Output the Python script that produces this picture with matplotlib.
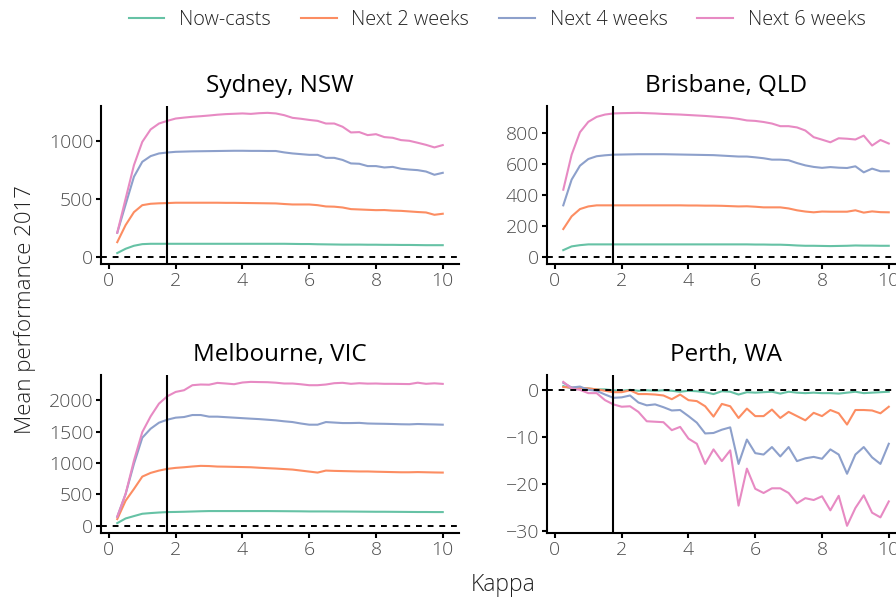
import matplotlib
matplotlib.use("Agg")
import matplotlib.pyplot as plt
import numpy as np

plt.rcParams['font.family'] = ['Open Sans', 'DejaVu Sans']

kappa = np.arange(1, 41) * 0.25
series = ["Now-casts", "Next 2 weeks", "Next 4 weeks", "Next 6 weeks"]
colors = ["#66c2a5", "#fc8d62", "#8da0cb", "#e78ac3"]

sydney = {
    "Now-casts": [32, 69, 95, 109, 112, 112, 112, 112, 112, 112, 112, 112, 112, 112, 112, 112, 112, 112, 112, 112,
                  112, 111, 110, 110, 108, 107, 106, 105, 105, 105, 104, 104, 103, 103, 102, 102, 101, 100, 100, 100],
    "Next 2 weeks": [126, 273, 385, 445, 457, 461, 463, 466, 466, 466, 466, 466, 466, 465, 465, 464, 463, 462, 461, 460,
                     455, 451, 451, 451, 445, 434, 432, 425, 411, 408, 405, 402, 403, 398, 396, 391, 386, 382, 362, 371],
    "Next 4 weeks": [207, 450, 690, 819, 868, 891, 899, 905, 907, 909, 910, 911, 912, 913, 914, 914, 913, 913, 912, 912,
                     900, 891, 885, 879, 879, 853, 853, 835, 805, 802, 782, 782, 770, 775, 759, 752, 747, 735, 707, 724],
    "Next 6 weeks": [207, 500, 790, 991, 1098, 1149, 1172, 1192, 1200, 1207, 1212, 1218, 1225, 1230, 1233, 1236, 1232, 1238,
                     1241, 1236, 1221, 1198, 1190, 1180, 1172, 1149, 1149, 1121, 1072, 1075, 1049, 1057, 1032, 1026, 1006,
                     1000, 983, 965, 943, 963],
}
brisbane = {
    "Now-casts": [43, 67, 75, 80, 80, 80, 80, 80, 80, 80, 80, 80, 80, 80, 80, 80, 80, 80, 80, 80,
                  80, 80, 80, 79, 79, 78, 78, 76, 73, 71, 71, 70, 69, 70, 71, 73, 72, 72, 71, 71],
    "Next 2 weeks": [179, 261, 308, 325, 332, 332, 332, 332, 332, 332, 332, 332, 332, 332, 332, 331, 331, 330, 330, 329,
                     327, 325, 326, 323, 319, 319, 319, 312, 300, 292, 287, 292, 291, 291, 291, 300, 285, 293, 288, 287],
    "Next 4 weeks": [332, 498, 588, 631, 649, 655, 659, 660, 661, 662, 662, 662, 662, 661, 660, 659, 658, 657, 656, 653,
                     650, 647, 647, 642, 636, 627, 627, 623, 605, 590, 580, 574, 579, 575, 573, 584, 545, 569, 552, 552],
    "Next 6 weeks": [433, 659, 804, 871, 903, 918, 925, 927, 928, 929, 927, 925, 922, 920, 918, 915, 912, 909, 905, 901,
                     897, 890, 880, 877, 870, 860, 843, 843, 835, 815, 772, 756, 739, 765, 762, 757, 782, 718, 754, 731],
}
melbourne = {
    "Now-casts": [43, 117, 155, 192, 203, 212, 219, 221, 224, 228, 232, 235, 235, 235, 235, 235, 235, 235, 235, 234,
                  233, 232, 231, 229, 229, 229, 228, 228, 227, 226, 225, 224, 224, 223, 222, 221, 220, 220, 219, 219],
    "Next 2 weeks": [107, 400, 587, 784, 843, 880, 907, 923, 933, 945, 955, 952, 944, 942, 939, 936, 933, 925, 918, 912,
                     904, 896, 880, 864, 848, 880, 875, 872, 869, 866, 866, 862, 859, 856, 853, 853, 856, 853, 850, 848],
    "Next 4 weeks": [144, 507, 987, 1403, 1547, 1643, 1691, 1723, 1733, 1765, 1765, 1739, 1739, 1731, 1723, 1715, 1707, 1700,
                     1690, 1680, 1665, 1653, 1630, 1611, 1611, 1653, 1645, 1637, 1637, 1640, 1630, 1627, 1625, 1622, 1618,
                     1616, 1622, 1618, 1615, 1611],
    "Next 6 weeks": [144, 507, 1040, 1493, 1744, 1947, 2064, 2133, 2160, 2240, 2251, 2248, 2277, 2267, 2256, 2283, 2293, 2290,
                     2288, 2280, 2267, 2267, 2255, 2240, 2240, 2251, 2272, 2278, 2262, 2272, 2265, 2267, 2262, 2262, 2260,
                     2258, 2280, 2262, 2270, 2261],
}
perth = {
    "Now-casts": [0.9, 0.4, 0.5, 0.4, 0.2, 0.2, 0.0, -0.1, 0.1, -0.1, 0.0, -0.1, 0.0, -0.1, -0.3, -0.1, -0.2, -0.4,
                  -0.8, -0.2, -0.3, -0.9, -0.4, -0.5, -0.4, -0.3, -0.7, -0.3, -0.5, -0.6, -0.5, -0.6, -0.6, -0.7, -0.5,
                  -0.3, -0.6, -0.5, -0.4, -0.3],
    "Next 2 weeks": [0.7, 0.6, 0.5, 0.4, 0.2, -0.1, -0.4, -0.4, 0.0, -0.8, -0.8, -0.9, -1.1, -1.9, -0.9, -2.1, -2.3,
                     -3.4, -5.6, -2.9, -3.4, -5.9, -3.9, -5.5, -5.5, -4.1, -5.9, -4.6, -5.5, -6.4, -4.8, -5.5, -4.2, -4.9,
                     -7.3, -4.2, -4.2, -4.3, -4.9, -3.5],
    "Next 4 weeks": [1.6, 0.6, 0.8, 0.1, -0.1, -0.9, -1.6, -1.5, -1.1, -2.6, -3.2, -3.0, -3.6, -4.3, -4.2, -5.5, -6.9,
                     -9.2, -9.1, -8.4, -7.9, -15.7, -10.5, -13.4, -13.7, -12.1, -14.1, -12.1, -15.1, -14.5, -14.2, -14.6,
                     -12.6, -13.7, -17.8, -13.7, -12.1, -14.3, -15.7, -11.4],
    "Next 6 weeks": [1.8, 0.4, 0.1, -0.6, -0.6, -2.1, -3.0, -3.5, -3.4, -4.6, -6.6, -6.7, -6.8, -8.5, -7.8, -10.3, -11.4,
                     -15.7, -12.6, -15.1, -12.8, -24.6, -16.7, -21.0, -21.9, -20.9, -20.9, -21.9, -24.1, -23.0, -23.4,
                     -22.6, -25.6, -22.5, -28.9, -25.1, -22.4, -26.1, -27.1, -23.7],
}

panels = [
    ("Sydney, NSW", sydney, [0, 500, 1000], [0.1127, 0.5615, 0.3996, 0.263]),
    ("Brisbane, QLD", brisbane, [0, 200, 400, 600, 800], [0.6105, 0.5615, 0.3996, 0.263]),
    ("Melbourne, VIC", melbourne, [0, 500, 1000, 1500, 2000], [0.1127, 0.1146, 0.3996, 0.263]),
    ("Perth, WA", perth, [0, -10, -20, -30], [0.6105, 0.1146, 0.3996, 0.263]),
]
kappa_opt = 1.75

fig = plt.figure(figsize=(8.96, 6.02), dpi=100)
handles = []
for title, data, yticks, pos in panels:
    ax = fig.add_axes(pos)
    allv = []
    for s, c in zip(series, colors):
        ln, = ax.plot(kappa, data[s], color=c, lw=1.5, label=s)
        allv += data[s]
        if len(handles) < 4:
            handles.append(ln)
    ax.axhline(0, color="black", lw=1.4, ls=(0, (3, 3)))
    ax.axvline(kappa_opt, color="black", lw=1.5)
    lo, hi = min(min(allv), 0), max(max(allv), 0)
    pad = (hi - lo) * 0.05
    ax.set_ylim(lo - pad, hi + pad)
    xpad = (kappa[-1] - kappa[0]) * 0.05
    ax.set_xlim(kappa[0] - xpad, kappa[-1] + xpad)
    ax.set_xticks([0, 2, 4, 6, 8, 10])
    ax.set_yticks(yticks)
    for sp in ["top", "right"]:
        ax.spines[sp].set_visible(False)
    for sp in ["left", "bottom"]:
        ax.spines[sp].set_linewidth(1.5)
    ax.tick_params(length=3.5, width=1.5, color="black", labelsize=14, labelcolor="#4d4d4d", pad=2)
    for lab in ax.get_xticklabels() + ax.get_yticklabels():
        lab.set_fontweight("light")
    ax.set_title(title, fontsize=17.5, color="black", pad=10)

fig.text(0.0275, 0.485, "Mean performance 2017", rotation=90, ha="center", va="center",
         fontsize=16, color="#222222", fontweight="light")
fig.text(0.561, 0.028, "Kappa", ha="center", va="center", fontsize=16.5, color="#222222", fontweight="light")
leg = fig.legend(handles, series, loc="center", bbox_to_anchor=(0.555, 0.967), ncol=4, frameon=False,
                 fontsize=14.3, handlelength=1.8, columnspacing=1.5, handletextpad=0.75)
for t in leg.get_texts():
    t.set_color("#222222")
    t.set_fontweight("light")
fig.savefig("out.png", dpi=100)
